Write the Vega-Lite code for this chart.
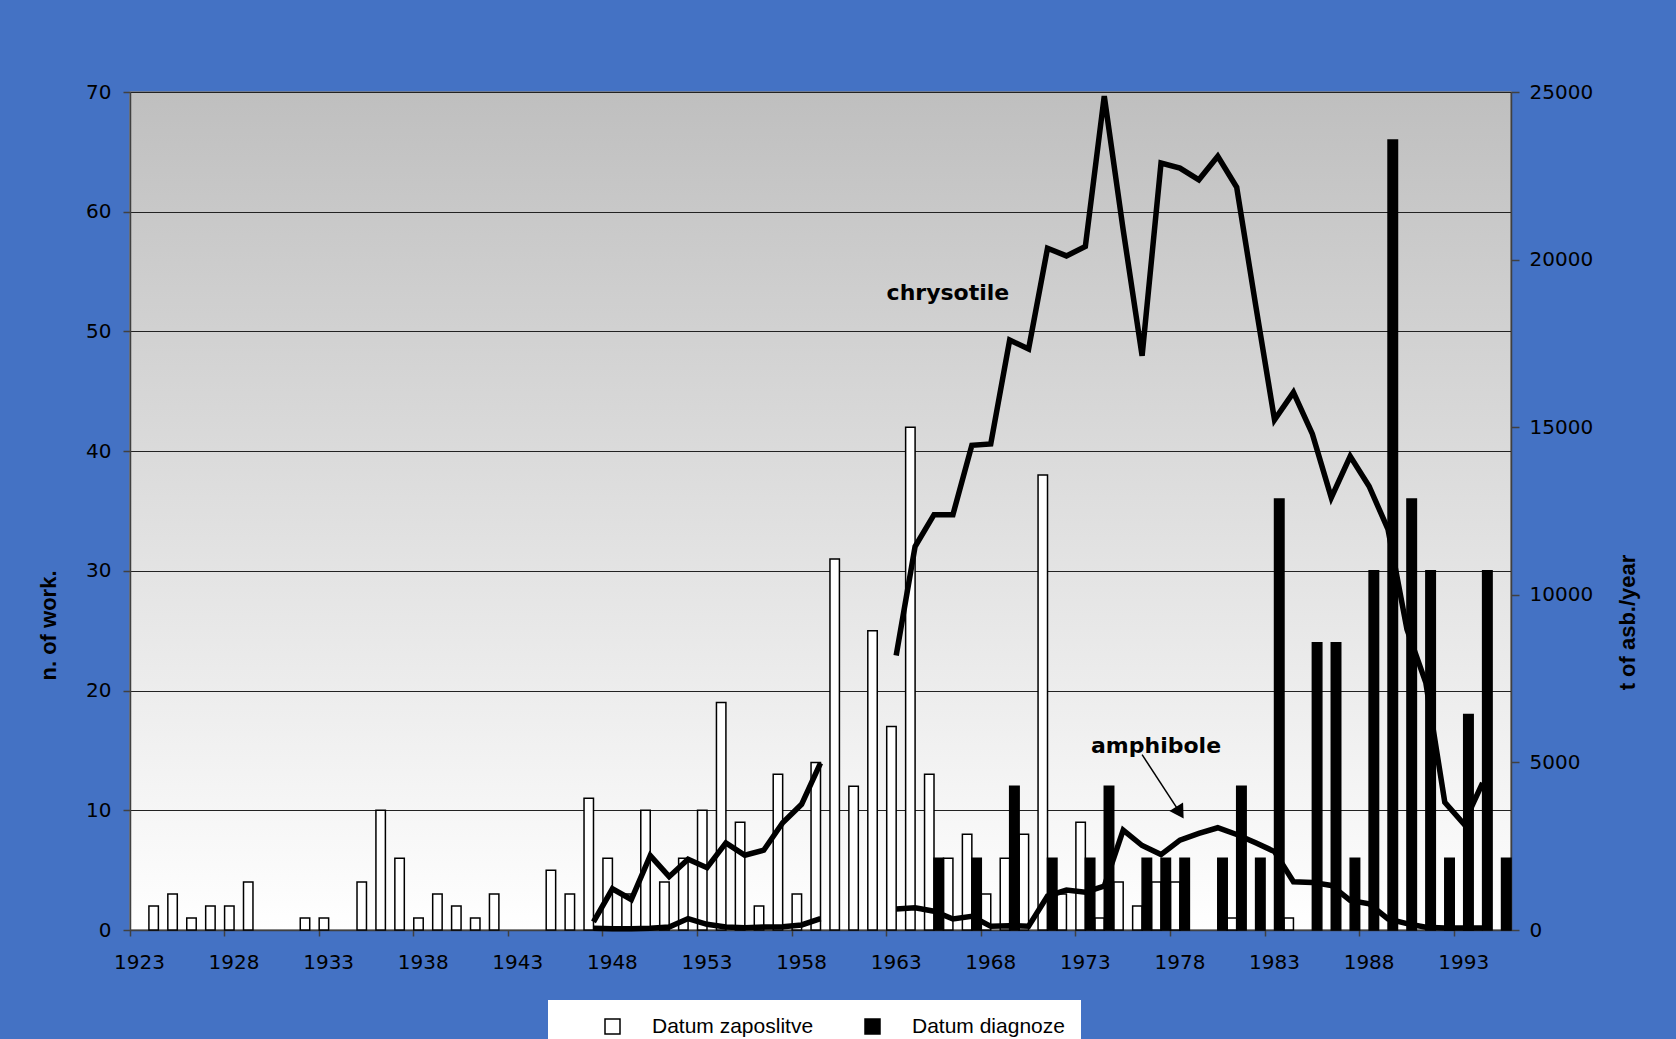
{
  "$schema": "https://vega.github.io/schema/vega-lite/v6.json",
  "width": 1381,
  "height": 838,
  "autosize": {"type": "none"},
  "padding": {"left": 130, "top": 92, "right": 165, "bottom": 109},
  "background": "#4472c4",
  "config": {
    "view": {
      "fill": {"gradient": "linear", "x1": 0, "y1": 0, "x2": 0, "y2": 1,
        "stops": [{"offset": 0, "color": "#bfbfbf"}, {"offset": 1, "color": "#ffffff"}]},
      "stroke": "#808080",
      "strokeWidth": 1.5
    },
    "axis": {
      "labelFont": "DejaVu Sans",
      "labelFontSize": 20,
      "labelColor": "#000000",
      "titleFont": "Liberation Sans",
      "titleFontWeight": "bold",
      "titleFontSize": 22,
      "titleColor": "#000000",
      "domainColor": "#404040",
      "domainWidth": 1.5,
      "tickColor": "#404040",
      "tickWidth": 1.5,
      "gridColor": "#222222",
      "gridWidth": 1,
      "gridOpacity": 1
    }
  },
  "datasets": {
    "bars": [
      {"year": 1924, "series": "Datum zaposlitve", "n": 2},
      {"year": 1925, "series": "Datum zaposlitve", "n": 3},
      {"year": 1926, "series": "Datum zaposlitve", "n": 1},
      {"year": 1927, "series": "Datum zaposlitve", "n": 2},
      {"year": 1928, "series": "Datum zaposlitve", "n": 2},
      {"year": 1929, "series": "Datum zaposlitve", "n": 4},
      {"year": 1932, "series": "Datum zaposlitve", "n": 1},
      {"year": 1933, "series": "Datum zaposlitve", "n": 1},
      {"year": 1935, "series": "Datum zaposlitve", "n": 4},
      {"year": 1936, "series": "Datum zaposlitve", "n": 10},
      {"year": 1937, "series": "Datum zaposlitve", "n": 6},
      {"year": 1938, "series": "Datum zaposlitve", "n": 1},
      {"year": 1939, "series": "Datum zaposlitve", "n": 3},
      {"year": 1940, "series": "Datum zaposlitve", "n": 2},
      {"year": 1941, "series": "Datum zaposlitve", "n": 1},
      {"year": 1942, "series": "Datum zaposlitve", "n": 3},
      {"year": 1945, "series": "Datum zaposlitve", "n": 5},
      {"year": 1946, "series": "Datum zaposlitve", "n": 3},
      {"year": 1947, "series": "Datum zaposlitve", "n": 11},
      {"year": 1948, "series": "Datum zaposlitve", "n": 6},
      {"year": 1949, "series": "Datum zaposlitve", "n": 3},
      {"year": 1950, "series": "Datum zaposlitve", "n": 10},
      {"year": 1951, "series": "Datum zaposlitve", "n": 4},
      {"year": 1952, "series": "Datum zaposlitve", "n": 6},
      {"year": 1953, "series": "Datum zaposlitve", "n": 10},
      {"year": 1954, "series": "Datum zaposlitve", "n": 19},
      {"year": 1955, "series": "Datum zaposlitve", "n": 9},
      {"year": 1956, "series": "Datum zaposlitve", "n": 2},
      {"year": 1957, "series": "Datum zaposlitve", "n": 13},
      {"year": 1958, "series": "Datum zaposlitve", "n": 3},
      {"year": 1959, "series": "Datum zaposlitve", "n": 14},
      {"year": 1960, "series": "Datum zaposlitve", "n": 31},
      {"year": 1961, "series": "Datum zaposlitve", "n": 12},
      {"year": 1962, "series": "Datum zaposlitve", "n": 25},
      {"year": 1963, "series": "Datum zaposlitve", "n": 17},
      {"year": 1964, "series": "Datum zaposlitve", "n": 42},
      {"year": 1965, "series": "Datum zaposlitve", "n": 13},
      {"year": 1966, "series": "Datum zaposlitve", "n": 6},
      {"year": 1967, "series": "Datum zaposlitve", "n": 8},
      {"year": 1968, "series": "Datum zaposlitve", "n": 3},
      {"year": 1969, "series": "Datum zaposlitve", "n": 6},
      {"year": 1970, "series": "Datum zaposlitve", "n": 8},
      {"year": 1971, "series": "Datum zaposlitve", "n": 38},
      {"year": 1972, "series": "Datum zaposlitve", "n": 3},
      {"year": 1973, "series": "Datum zaposlitve", "n": 9},
      {"year": 1974, "series": "Datum zaposlitve", "n": 1},
      {"year": 1975, "series": "Datum zaposlitve", "n": 4},
      {"year": 1976, "series": "Datum zaposlitve", "n": 2},
      {"year": 1977, "series": "Datum zaposlitve", "n": 4},
      {"year": 1978, "series": "Datum zaposlitve", "n": 4},
      {"year": 1981, "series": "Datum zaposlitve", "n": 1},
      {"year": 1984, "series": "Datum zaposlitve", "n": 1},
      {"year": 1965, "series": "Datum diagnoze", "n": 6},
      {"year": 1967, "series": "Datum diagnoze", "n": 6},
      {"year": 1969, "series": "Datum diagnoze", "n": 12},
      {"year": 1971, "series": "Datum diagnoze", "n": 6},
      {"year": 1973, "series": "Datum diagnoze", "n": 6},
      {"year": 1974, "series": "Datum diagnoze", "n": 12},
      {"year": 1976, "series": "Datum diagnoze", "n": 6},
      {"year": 1977, "series": "Datum diagnoze", "n": 6},
      {"year": 1978, "series": "Datum diagnoze", "n": 6},
      {"year": 1980, "series": "Datum diagnoze", "n": 6},
      {"year": 1981, "series": "Datum diagnoze", "n": 12},
      {"year": 1982, "series": "Datum diagnoze", "n": 6},
      {"year": 1983, "series": "Datum diagnoze", "n": 36},
      {"year": 1985, "series": "Datum diagnoze", "n": 24},
      {"year": 1986, "series": "Datum diagnoze", "n": 24},
      {"year": 1987, "series": "Datum diagnoze", "n": 6},
      {"year": 1988, "series": "Datum diagnoze", "n": 30},
      {"year": 1989, "series": "Datum diagnoze", "n": 66},
      {"year": 1990, "series": "Datum diagnoze", "n": 36},
      {"year": 1991, "series": "Datum diagnoze", "n": 30},
      {"year": 1992, "series": "Datum diagnoze", "n": 6},
      {"year": 1993, "series": "Datum diagnoze", "n": 18},
      {"year": 1994, "series": "Datum diagnoze", "n": 30},
      {"year": 1995, "series": "Datum diagnoze", "n": 6}
    ],
    "lines": [
      {"year": 1947, "type": "chrysotile", "period": 1, "t": 240},
      {"year": 1948, "type": "chrysotile", "period": 1, "t": 1230},
      {"year": 1949, "type": "chrysotile", "period": 1, "t": 910},
      {"year": 1950, "type": "chrysotile", "period": 1, "t": 2220},
      {"year": 1951, "type": "chrysotile", "period": 1, "t": 1590},
      {"year": 1952, "type": "chrysotile", "period": 1, "t": 2110},
      {"year": 1953, "type": "chrysotile", "period": 1, "t": 1860},
      {"year": 1954, "type": "chrysotile", "period": 1, "t": 2600},
      {"year": 1955, "type": "chrysotile", "period": 1, "t": 2230},
      {"year": 1956, "type": "chrysotile", "period": 1, "t": 2380},
      {"year": 1957, "type": "chrysotile", "period": 1, "t": 3200},
      {"year": 1958, "type": "chrysotile", "period": 1, "t": 3750},
      {"year": 1959, "type": "chrysotile", "period": 1, "t": 4980},
      {"year": 1963, "type": "chrysotile", "period": 2, "t": 8190},
      {"year": 1964, "type": "chrysotile", "period": 2, "t": 11440},
      {"year": 1965, "type": "chrysotile", "period": 2, "t": 12390},
      {"year": 1966, "type": "chrysotile", "period": 2, "t": 12390},
      {"year": 1967, "type": "chrysotile", "period": 2, "t": 14460},
      {"year": 1968, "type": "chrysotile", "period": 2, "t": 14500},
      {"year": 1969, "type": "chrysotile", "period": 2, "t": 17600},
      {"year": 1970, "type": "chrysotile", "period": 2, "t": 17330},
      {"year": 1971, "type": "chrysotile", "period": 2, "t": 20340},
      {"year": 1972, "type": "chrysotile", "period": 2, "t": 20110},
      {"year": 1973, "type": "chrysotile", "period": 2, "t": 20390},
      {"year": 1974, "type": "chrysotile", "period": 2, "t": 24880},
      {"year": 1975, "type": "chrysotile", "period": 2, "t": 20890},
      {"year": 1976, "type": "chrysotile", "period": 2, "t": 17130},
      {"year": 1977, "type": "chrysotile", "period": 2, "t": 22880},
      {"year": 1978, "type": "chrysotile", "period": 2, "t": 22730},
      {"year": 1979, "type": "chrysotile", "period": 2, "t": 22380},
      {"year": 1980, "type": "chrysotile", "period": 2, "t": 23080},
      {"year": 1981, "type": "chrysotile", "period": 2, "t": 22160},
      {"year": 1982, "type": "chrysotile", "period": 2, "t": 18650},
      {"year": 1983, "type": "chrysotile", "period": 2, "t": 15220},
      {"year": 1984, "type": "chrysotile", "period": 2, "t": 16040},
      {"year": 1985, "type": "chrysotile", "period": 2, "t": 14800},
      {"year": 1986, "type": "chrysotile", "period": 2, "t": 12900},
      {"year": 1987, "type": "chrysotile", "period": 2, "t": 14130},
      {"year": 1988, "type": "chrysotile", "period": 2, "t": 13240},
      {"year": 1989, "type": "chrysotile", "period": 2, "t": 11950},
      {"year": 1990, "type": "chrysotile", "period": 2, "t": 8970},
      {"year": 1991, "type": "chrysotile", "period": 2, "t": 7370},
      {"year": 1992, "type": "chrysotile", "period": 2, "t": 3810},
      {"year": 1993, "type": "chrysotile", "period": 2, "t": 3170},
      {"year": 1994, "type": "chrysotile", "period": 2, "t": 4390},
      {"year": 1947, "type": "amphibole", "period": 1, "t": 50},
      {"year": 1948, "type": "amphibole", "period": 1, "t": 40},
      {"year": 1949, "type": "amphibole", "period": 1, "t": 40},
      {"year": 1950, "type": "amphibole", "period": 1, "t": 50},
      {"year": 1951, "type": "amphibole", "period": 1, "t": 90},
      {"year": 1952, "type": "amphibole", "period": 1, "t": 340},
      {"year": 1953, "type": "amphibole", "period": 1, "t": 170},
      {"year": 1954, "type": "amphibole", "period": 1, "t": 90},
      {"year": 1955, "type": "amphibole", "period": 1, "t": 70},
      {"year": 1956, "type": "amphibole", "period": 1, "t": 90},
      {"year": 1957, "type": "amphibole", "period": 1, "t": 100},
      {"year": 1958, "type": "amphibole", "period": 1, "t": 150},
      {"year": 1959, "type": "amphibole", "period": 1, "t": 340},
      {"year": 1963, "type": "amphibole", "period": 2, "t": 630},
      {"year": 1964, "type": "amphibole", "period": 2, "t": 660},
      {"year": 1965, "type": "amphibole", "period": 2, "t": 560},
      {"year": 1966, "type": "amphibole", "period": 2, "t": 330},
      {"year": 1967, "type": "amphibole", "period": 2, "t": 410},
      {"year": 1968, "type": "amphibole", "period": 2, "t": 110},
      {"year": 1969, "type": "amphibole", "period": 2, "t": 130},
      {"year": 1970, "type": "amphibole", "period": 2, "t": 110},
      {"year": 1971, "type": "amphibole", "period": 2, "t": 1010},
      {"year": 1972, "type": "amphibole", "period": 2, "t": 1190},
      {"year": 1973, "type": "amphibole", "period": 2, "t": 1130},
      {"year": 1974, "type": "amphibole", "period": 2, "t": 1310},
      {"year": 1975, "type": "amphibole", "period": 2, "t": 2980},
      {"year": 1976, "type": "amphibole", "period": 2, "t": 2520},
      {"year": 1977, "type": "amphibole", "period": 2, "t": 2250},
      {"year": 1978, "type": "amphibole", "period": 2, "t": 2680},
      {"year": 1979, "type": "amphibole", "period": 2, "t": 2880},
      {"year": 1980, "type": "amphibole", "period": 2, "t": 3050},
      {"year": 1981, "type": "amphibole", "period": 2, "t": 2850},
      {"year": 1982, "type": "amphibole", "period": 2, "t": 2600},
      {"year": 1983, "type": "amphibole", "period": 2, "t": 2340},
      {"year": 1984, "type": "amphibole", "period": 2, "t": 1440},
      {"year": 1985, "type": "amphibole", "period": 2, "t": 1420},
      {"year": 1986, "type": "amphibole", "period": 2, "t": 1330},
      {"year": 1987, "type": "amphibole", "period": 2, "t": 880},
      {"year": 1988, "type": "amphibole", "period": 2, "t": 780},
      {"year": 1989, "type": "amphibole", "period": 2, "t": 330},
      {"year": 1990, "type": "amphibole", "period": 2, "t": 190},
      {"year": 1991, "type": "amphibole", "period": 2, "t": 80},
      {"year": 1992, "type": "amphibole", "period": 2, "t": 60},
      {"year": 1993, "type": "amphibole", "period": 2, "t": 60},
      {"year": 1994, "type": "amphibole", "period": 2, "t": 60}
    ],
    "labels": [
      {"year": 1966, "t": 19000, "label": "chrysotile"},
      {"year": 1977, "t": 5480, "label": "amphibole"}
    ],
    "arrow": [
      {"year": 1976, "t": 5230},
      {"year": 1978, "t": 3500}
    ],
    "arrowhead": [
      {"year": 1978, "t": 3500}
    ]
  },
  "layer": [
    {
      "data": {"name": "bars"},
      "mark": {"type": "bar", "stroke": "#000000", "strokeWidth": 1.5},
      "encoding": {
        "x": {
          "field": "year", "type": "ordinal",
          "scale": {"domain": [1923,1924,1925,1926,1927,1928,1929,1930,1931,1932,1933,1934,1935,1936,1937,1938,1939,1940,1941,1942,1943,1944,1945,1946,1947,1948,1949,1950,1951,1952,1953,1954,1955,1956,1957,1958,1959,1960,1961,1962,1963,1964,1965,1966,1967,1968,1969,1970,1971,1972,1973,1974,1975,1976,1977,1978,1979,1980,1981,1982,1983,1984,1985,1986,1987,1988,1989,1990,1991,1992,1993,1994,1995], "paddingInner": 0, "paddingOuter": 0},
          "axis": {
            "title": null,
            "values": [1923,1928,1933,1938,1943,1948,1953,1958,1963,1968,1973,1978,1983,1988,1993],
            "bandPosition": 0,
            "labelAngle": 0,
            "labelAlign": "center",
            "labelBaseline": "top",
            "tickSize": 6,
            "labelPadding": 16,
            "labelOverlap": false,
            "grid": false
          }
        },
        "xOffset": {
          "field": "series", "type": "nominal",
          "scale": {"domain": ["Datum zaposlitve", "Datum diagnoze"], "paddingInner": 0, "paddingOuter": 0}
        },
        "y": {
          "field": "n", "type": "quantitative",
          "scale": {"domain": [0, 70], "nice": false},
          "axis": {
            "title": "n. of work.",
            "values": [0, 10, 20, 30, 40, 50, 60, 70],
            "grid": true,
            "tickSize": 7,
            "labelPadding": 12,
            "titleAngle": -90,
            "titleX": -82,
            "titleY": 533,
            "titleAlign": "center",
            "titleBaseline": "middle"
          }
        },
        "fill": {
          "field": "series", "type": "nominal",
          "scale": {"domain": ["Datum zaposlitve", "Datum diagnoze"], "range": ["#ffffff", "#000000"]},
          "legend": {
            "title": null,
            "orient": "none",
            "legendX": 418,
            "legendY": 908,
            "direction": "horizontal",
            "fillColor": "#ffffff",
            "padding": 16,
            "symbolType": "square",
            "symbolSize": 225,
            "symbolStrokeColor": "#000000",
            "symbolStrokeWidth": 1.5,
            "symbolOffset": 38,
            "labelOffset": 29,
            "columnPadding": 10,
            "labelLimit": 400,
            "labelFont": "Liberation Sans",
            "labelFontSize": 21,
            "labelColor": "#000000"
          }
        }
      }
    },
    {
      "layer": [
        {
          "data": {"name": "lines"},
          "mark": {"type": "line", "color": "#000000", "strokeWidth": 5.5, "strokeJoin": "miter"},
          "encoding": {
            "x": {"field": "year", "type": "ordinal",
              "scale": {"domain": [1923,1924,1925,1926,1927,1928,1929,1930,1931,1932,1933,1934,1935,1936,1937,1938,1939,1940,1941,1942,1943,1944,1945,1946,1947,1948,1949,1950,1951,1952,1953,1954,1955,1956,1957,1958,1959,1960,1961,1962,1963,1964,1965,1966,1967,1968,1969,1970,1971,1972,1973,1974,1975,1976,1977,1978,1979,1980,1981,1982,1983,1984,1985,1986,1987,1988,1989,1990,1991,1992,1993,1994,1995], "paddingInner": 0, "paddingOuter": 0}},
            "y": {
              "field": "t", "type": "quantitative",
              "scale": {"domain": [0, 25000], "nice": false},
              "axis": {
                "orient": "right",
                "title": "t of asb./year",
                "values": [0, 5000, 10000, 15000, 20000, 25000],
                "format": "d",
                "grid": false,
                "tickSize": 8,
                "labelPadding": 10,
                "titleAngle": -90,
                "titleX": 116,
                "titleY": 530,
                "titleAlign": "center",
                "titleBaseline": "middle"
              }
            },
            "detail": [{"field": "type"}, {"field": "period"}]
          }
        },
        {
          "data": {"name": "arrow"},
          "mark": {"type": "line", "color": "#000000", "strokeWidth": 1.5},
          "encoding": {
            "x": {"field": "year", "type": "ordinal"},
            "y": {"field": "t", "type": "quantitative"}
          }
        },
        {
          "data": {"name": "arrowhead"},
          "mark": {"type": "point", "shape": "triangle-down", "filled": true, "color": "#000000", "size": 260, "angle": 328, "opacity": 1},
          "encoding": {
            "x": {"field": "year", "type": "ordinal"},
            "y": {"field": "t", "type": "quantitative"}
          }
        },
        {
          "data": {"name": "labels"},
          "mark": {"type": "text", "font": "DejaVu Sans", "fontWeight": "bold", "fontSize": 22, "color": "#000000", "align": "center", "baseline": "middle", "dx": -5},
          "encoding": {
            "x": {"field": "year", "type": "ordinal"},
            "y": {"field": "t", "type": "quantitative"},
            "text": {"field": "label"}
          }
        }
      ]
    }
  ],
  "resolve": {"scale": {"y": "independent"}, "axis": {"y": "independent"}}
}
